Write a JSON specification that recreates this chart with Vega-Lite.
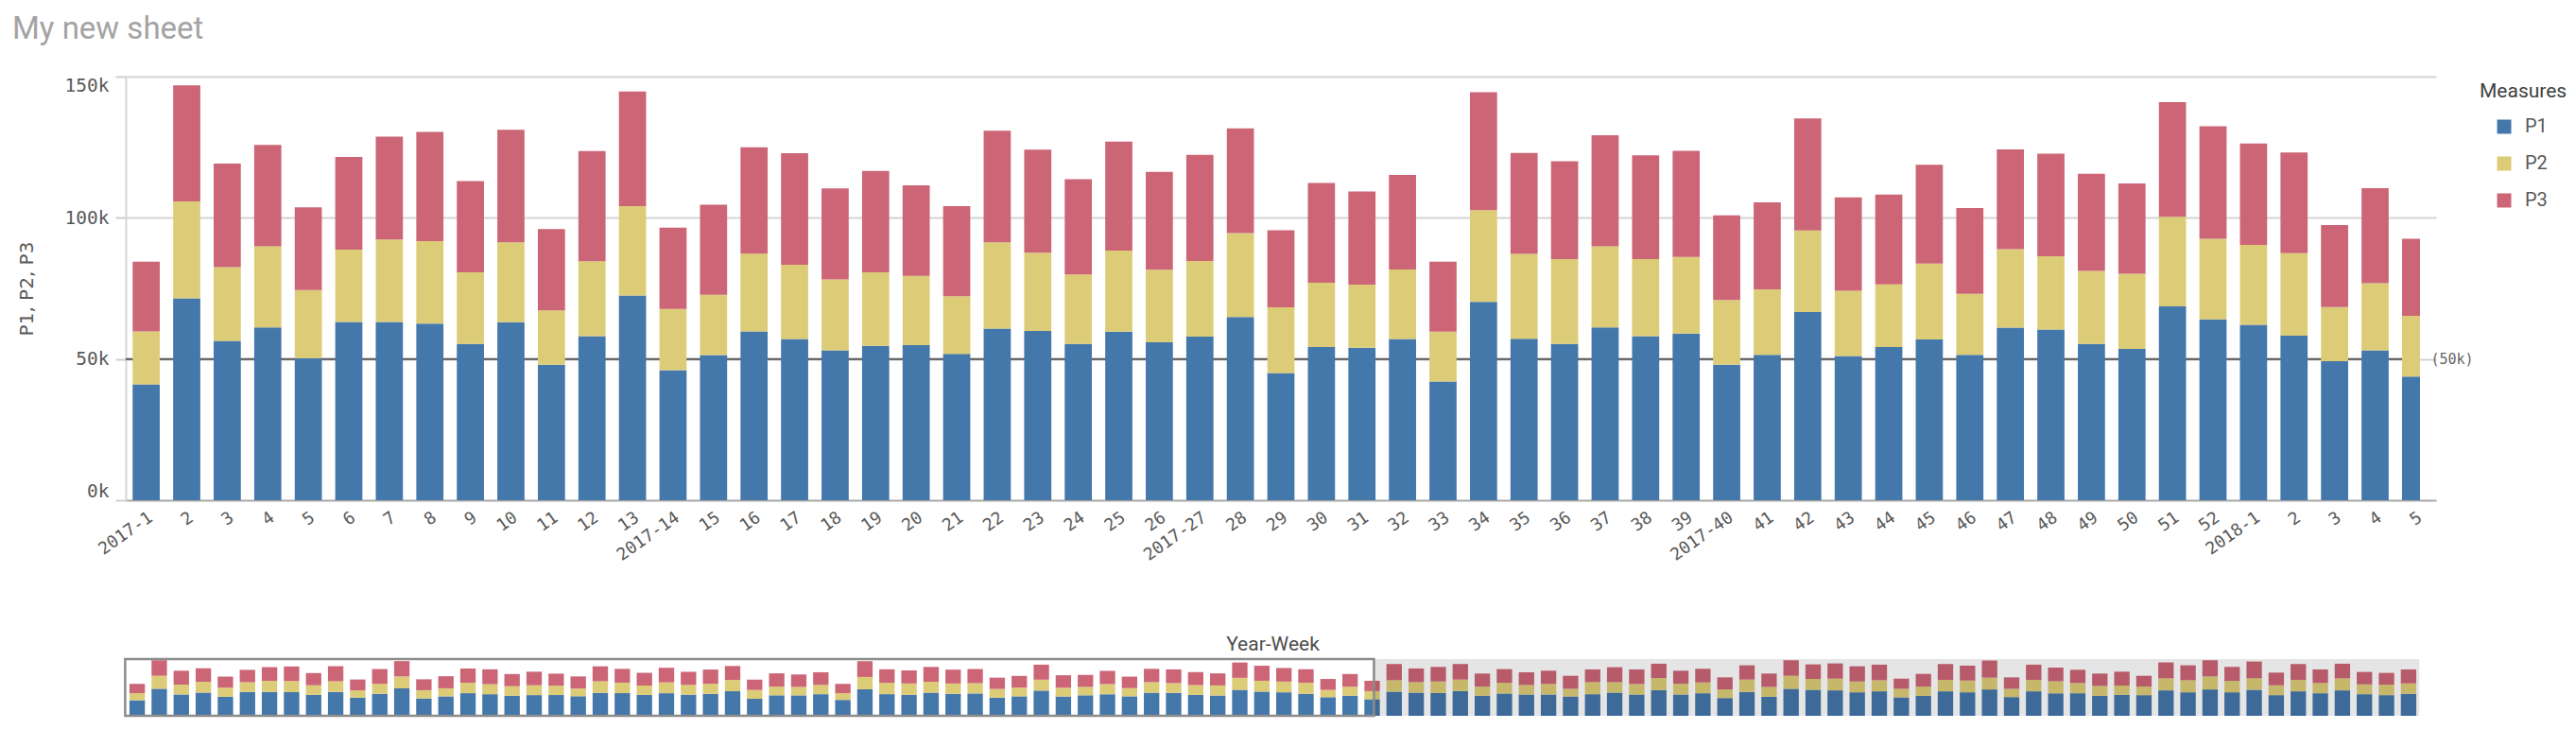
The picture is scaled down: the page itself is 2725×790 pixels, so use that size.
{
  "$schema": "https://vega.github.io/schema/vega-lite/v6.json",
  "background": "white",
  "padding": {"left": 13, "top": 15, "right": 5, "bottom": 5},
  "title": {"text": "My new sheet", "anchor": "start", "frame": "bounds", "font": "Roboto", "fontSize": 33, "fontWeight": "normal", "color": "#a3a3a3", "offset": 32, "dx": -5},
  "datasets": {
    "weeks": [
      {"week": "2017-1", "P1": 41000, "P2": 18800, "P3": 24700},
      {"week": "2017-2", "P1": 71500, "P2": 34300, "P3": 41100},
      {"week": "2017-3", "P1": 56400, "P2": 26100, "P3": 36700},
      {"week": "2017-4", "P1": 61200, "P2": 28700, "P3": 35900},
      {"week": "2017-5", "P1": 50300, "P2": 24100, "P3": 29300},
      {"week": "2017-6", "P1": 63100, "P2": 25600, "P3": 32800},
      {"week": "2017-7", "P1": 63100, "P2": 29200, "P3": 36400},
      {"week": "2017-8", "P1": 62500, "P2": 29200, "P3": 38700},
      {"week": "2017-9", "P1": 55300, "P2": 25400, "P3": 32300},
      {"week": "2017-10", "P1": 63000, "P2": 28300, "P3": 39900},
      {"week": "2017-11", "P1": 48000, "P2": 19200, "P3": 28800},
      {"week": "2017-12", "P1": 58100, "P2": 26500, "P3": 39000},
      {"week": "2017-13", "P1": 72500, "P2": 31600, "P3": 40600},
      {"week": "2017-14", "P1": 46000, "P2": 21700, "P3": 28800},
      {"week": "2017-15", "P1": 51400, "P2": 21300, "P3": 31900},
      {"week": "2017-16", "P1": 59800, "P2": 27500, "P3": 37700},
      {"week": "2017-17", "P1": 57100, "P2": 26300, "P3": 39500},
      {"week": "2017-18", "P1": 53100, "P2": 25100, "P3": 32200},
      {"week": "2017-19", "P1": 54700, "P2": 26000, "P3": 35900},
      {"week": "2017-20", "P1": 54900, "P2": 24500, "P3": 32100},
      {"week": "2017-21", "P1": 51800, "P2": 20400, "P3": 31900},
      {"week": "2017-22", "P1": 60800, "P2": 30500, "P3": 39500},
      {"week": "2017-23", "P1": 59900, "P2": 27700, "P3": 36500},
      {"week": "2017-24", "P1": 55300, "P2": 24600, "P3": 33800},
      {"week": "2017-25", "P1": 59700, "P2": 28700, "P3": 38600},
      {"week": "2017-26", "P1": 55900, "P2": 25700, "P3": 34700},
      {"week": "2017-27", "P1": 57900, "P2": 26800, "P3": 37600},
      {"week": "2017-28", "P1": 64900, "P2": 29700, "P3": 37100},
      {"week": "2017-29", "P1": 45000, "P2": 23300, "P3": 27300},
      {"week": "2017-30", "P1": 54200, "P2": 22800, "P3": 35300},
      {"week": "2017-31", "P1": 54000, "P2": 22300, "P3": 33000},
      {"week": "2017-32", "P1": 57100, "P2": 24600, "P3": 33500},
      {"week": "2017-33", "P1": 42000, "P2": 17700, "P3": 24800},
      {"week": "2017-34", "P1": 70200, "P2": 32500, "P3": 41800},
      {"week": "2017-35", "P1": 57200, "P2": 30000, "P3": 35800},
      {"week": "2017-36", "P1": 55300, "P2": 30100, "P3": 34600},
      {"week": "2017-37", "P1": 61200, "P2": 28700, "P3": 39300},
      {"week": "2017-38", "P1": 58100, "P2": 27300, "P3": 36700},
      {"week": "2017-39", "P1": 59000, "P2": 27100, "P3": 37600},
      {"week": "2017-40", "P1": 48000, "P2": 22900, "P3": 30000},
      {"week": "2017-41", "P1": 51500, "P2": 23200, "P3": 30800},
      {"week": "2017-42", "P1": 66600, "P2": 28900, "P3": 39700},
      {"week": "2017-43", "P1": 51100, "P2": 23100, "P3": 33000},
      {"week": "2017-44", "P1": 54200, "P2": 22200, "P3": 31800},
      {"week": "2017-45", "P1": 56900, "P2": 26900, "P3": 35000},
      {"week": "2017-46", "P1": 51500, "P2": 21600, "P3": 30400},
      {"week": "2017-47", "P1": 61100, "P2": 27800, "P3": 35300},
      {"week": "2017-48", "P1": 60400, "P2": 26000, "P3": 36300},
      {"week": "2017-49", "P1": 55300, "P2": 25900, "P3": 34400},
      {"week": "2017-50", "P1": 53600, "P2": 26600, "P3": 32000},
      {"week": "2017-51", "P1": 68600, "P2": 31800, "P3": 40600},
      {"week": "2017-52", "P1": 64000, "P2": 28600, "P3": 39800},
      {"week": "2018-1", "P1": 62100, "P2": 28300, "P3": 35900},
      {"week": "2018-2", "P1": 58300, "P2": 29200, "P3": 35600},
      {"week": "2018-3", "P1": 49200, "P2": 19200, "P3": 29000},
      {"week": "2018-4", "P1": 53100, "P2": 23700, "P3": 33700},
      {"week": "2018-5", "P1": 43800, "P2": 21500, "P3": 27300},
      {"week": "2018-6", "P1": 63800, "P2": 30200, "P3": 42900},
      {"week": "2018-7", "P1": 61300, "P2": 27700, "P3": 36100},
      {"week": "2018-8", "P1": 60500, "P2": 30200, "P3": 38600},
      {"week": "2018-9", "P1": 65500, "P2": 30200, "P3": 41200},
      {"week": "2018-10", "P1": 52900, "P2": 24300, "P3": 34500},
      {"week": "2018-11", "P1": 58800, "P2": 28500, "P3": 36100},
      {"week": "2018-12", "P1": 56300, "P2": 25100, "P3": 33600},
      {"week": "2018-13", "P1": 56300, "P2": 27700, "P3": 35200},
      {"week": "2018-14", "P1": 51200, "P2": 20200, "P3": 34400},
      {"week": "2018-15", "P1": 57100, "P2": 31900, "P3": 33600},
      {"week": "2018-16", "P1": 61300, "P2": 27700, "P3": 39500},
      {"week": "2018-17", "P1": 56300, "P2": 27700, "P3": 38600},
      {"week": "2018-18", "P1": 68000, "P2": 31900, "P3": 37800},
      {"week": "2018-19", "P1": 56300, "P2": 28500, "P3": 34400},
      {"week": "2018-20", "P1": 59600, "P2": 28600, "P3": 36100},
      {"week": "2018-21", "P1": 47000, "P2": 22700, "P3": 31900},
      {"week": "2018-22", "P1": 63000, "P2": 32700, "P3": 37800},
      {"week": "2018-23", "P1": 50400, "P2": 26000, "P3": 35300},
      {"week": "2018-24", "P1": 71400, "P2": 34400, "P3": 41100},
      {"week": "2018-25", "P1": 68800, "P2": 28600, "P3": 38600},
      {"week": "2018-26", "P1": 67200, "P2": 31000, "P3": 40300},
      {"week": "2018-27", "P1": 62100, "P2": 28600, "P3": 40300},
      {"week": "2018-28", "P1": 64700, "P2": 29300, "P3": 41200},
      {"week": "2018-29", "P1": 48700, "P2": 22700, "P3": 26800},
      {"week": "2018-30", "P1": 52900, "P2": 24300, "P3": 33600},
      {"week": "2018-31", "P1": 64700, "P2": 30200, "P3": 42000},
      {"week": "2018-32", "P1": 62100, "P2": 31100, "P3": 39500},
      {"week": "2018-33", "P1": 69700, "P2": 31100, "P3": 45300},
      {"week": "2018-34", "P1": 49500, "P2": 21900, "P3": 30200},
      {"week": "2018-35", "P1": 64700, "P2": 30200, "P3": 40300},
      {"week": "2018-36", "P1": 59600, "P2": 31900, "P3": 36100},
      {"week": "2018-37", "P1": 59600, "P2": 26900, "P3": 35200},
      {"week": "2018-38", "P1": 52900, "P2": 26000, "P3": 32800},
      {"week": "2018-39", "P1": 55400, "P2": 24400, "P3": 36900},
      {"week": "2018-40", "P1": 54600, "P2": 22600, "P3": 28600},
      {"week": "2018-41", "P1": 67200, "P2": 31900, "P3": 42000},
      {"week": "2018-42", "P1": 62100, "P2": 31900, "P3": 39500},
      {"week": "2018-43", "P1": 69700, "P2": 34400, "P3": 42800},
      {"week": "2018-44", "P1": 62100, "P2": 30300, "P3": 36900},
      {"week": "2018-45", "P1": 68800, "P2": 30300, "P3": 44500},
      {"week": "2018-46", "P1": 54600, "P2": 26000, "P3": 33600},
      {"week": "2018-47", "P1": 64700, "P2": 30200, "P3": 42000},
      {"week": "2018-48", "P1": 59600, "P2": 26900, "P3": 36100},
      {"week": "2018-49", "P1": 67200, "P2": 31900, "P3": 38600},
      {"week": "2018-50", "P1": 57100, "P2": 26000, "P3": 32800},
      {"week": "2018-51", "P1": 54600, "P2": 27700, "P3": 31100},
      {"week": "2018-52", "P1": 57900, "P2": 27700, "P3": 37000}
    ],
    "refline": [{"ref": 50000}],
    "window": [{"start": "2017-1", "end": "2018-5"}],
    "rest": [{"start": "2018-5", "end": "2018-52"}]
  },
  "spacing": 4,
  "vconcat": [
    {
      "width": 2427,
      "height": 448,
      "layer": [
        {
          "data": {"name": "refline"},
          "mark": {"type": "rule", "color": "#555555", "strokeWidth": 2},
          "encoding": {
            "y": {
              "field": "ref", "type": "quantitative",
              "scale": {"domain": [0, 150000], "nice": false},
              "axis": {"orient": "right", "values": [50000], "labelExpr": "'(' + format(datum.value, '~s') + ')'", "grid": false, "ticks": false, "domain": false, "title": null, "labelFontSize": 15, "labelPadding": 11, "labelColor": "#666666"}
            }
          }
        },
        {
          "data": {"name": "weeks"},
          "transform": [
            {"filter": "split(datum.week, '-')[0] == '2017' || toNumber(split(datum.week, '-')[1]) <= 5"},
            {"fold": ["P1", "P2", "P3"], "as": ["key", "value"]}
          ],
          "mark": {"type": "bar", "clip": true},
          "encoding": {
            "x": {
              "field": "week", "type": "nominal", "sort": null,
              "scale": {"range": [0, 2444], "paddingInner": 0.33, "paddingOuter": 0.17},
              "axis": {
                "title": "Year-Week", "titleFont": "Roboto", "titleFontSize": 21, "titleColor": "#4d4d4d", "titleFontWeight": "normal",
                "titleY": 141, "titleX": 1213, "titleBaseline": "top",
                "labelAngle": -35, "labelAlign": "right", "labelBaseline": "top", "labelFontSize": 18, "labelPadding": 9,
                "labelOverlap": false, "labelBound": false, "ticks": false, "domain": false, "grid": false,
                "labelExpr": "toNumber(split(datum.value, '-')[1]) % 13 == 1 ? datum.value : split(datum.value, '-')[1]"
              }
            },
            "y": {
              "field": "value", "type": "quantitative", "stack": "zero",
              "scale": {"domain": [0, 150000], "nice": false},
              "axis": {
                "orient": "left", "title": "P1, P2, P3", "titleFontSize": 20, "titlePadding": 30,
                "values": [0, 50000, 100000, 150000], "format": "~s", "labelFlush": true,
                "labelFontSize": 19.5, "labelPadding": 7, "tickSize": 11, "tickColor": "#cfcfcf", "tickWidth": 2,
                "domain": true, "domainColor": "#d6d6d6", "domainWidth": 2,
                "grid": true, "gridColor": {"condition": {"test": "datum.value === 0", "value": "#a8a8a8"}, "value": "#d3d3d3"}, "gridWidth": 2
              }
            },
            "color": {
              "field": "key", "type": "nominal", "title": "Measures",
              "scale": {"domain": ["P1", "P2", "P3"], "range": ["#4477aa", "#ddcc77", "#cc6677"]}
            },
            "order": {"field": "key", "sort": "ascending"}
          }
        }
      ],
      "resolve": {"axis": {"y": "independent"}}
    },
    {
      "width": 2427,
      "height": 60,
      "layer": [
        {
          "data": {"name": "weeks"},
          "transform": [{"fold": ["P1", "P2", "P3"], "as": ["key", "value"]}],
          "mark": {"type": "bar"},
          "encoding": {
            "x": {
              "field": "week", "type": "nominal",
              "scale": {"paddingInner": 0.3, "paddingOuter": 0.17, "domain": ["2017-1","2017-2","2017-3","2017-4","2017-5","2017-6","2017-7","2017-8","2017-9","2017-10","2017-11","2017-12","2017-13","2017-14","2017-15","2017-16","2017-17","2017-18","2017-19","2017-20","2017-21","2017-22","2017-23","2017-24","2017-25","2017-26","2017-27","2017-28","2017-29","2017-30","2017-31","2017-32","2017-33","2017-34","2017-35","2017-36","2017-37","2017-38","2017-39","2017-40","2017-41","2017-42","2017-43","2017-44","2017-45","2017-46","2017-47","2017-48","2017-49","2017-50","2017-51","2017-52","2018-1","2018-2","2018-3","2018-4","2018-5","2018-6","2018-7","2018-8","2018-9","2018-10","2018-11","2018-12","2018-13","2018-14","2018-15","2018-16","2018-17","2018-18","2018-19","2018-20","2018-21","2018-22","2018-23","2018-24","2018-25","2018-26","2018-27","2018-28","2018-29","2018-30","2018-31","2018-32","2018-33","2018-34","2018-35","2018-36","2018-37","2018-38","2018-39","2018-40","2018-41","2018-42","2018-43","2018-44","2018-45","2018-46","2018-47","2018-48","2018-49","2018-50","2018-51","2018-52"]},
              "axis": null
            },
            "y": {"field": "value", "type": "quantitative", "stack": "zero", "scale": {"domain": [0, 150000], "nice": false}, "axis": null},
            "color": {
              "field": "key", "type": "nominal", "title": "Measures",
              "scale": {"domain": ["P1", "P2", "P3"], "range": ["#4477aa", "#ddcc77", "#cc6677"]}
            },
            "order": {"field": "key", "sort": "ascending"}
          }
        },
        {
          "data": {"name": "rest"},
          "mark": {"type": "rect", "fill": "#000000", "opacity": 0.1},
          "encoding": {
            "x": {"field": "start", "type": "nominal", "bandPosition": 0.62, "axis": null},
            "x2": {"field": "end", "bandPosition": 1.2},
            "y": {"datum": 0, "type": "quantitative"},
            "y2": {"datum": 150000}
          }
        },
        {
          "data": {"name": "window"},
          "mark": {"type": "rect", "fillOpacity": 0, "stroke": "#8c8c8c", "strokeWidth": 2.5},
          "encoding": {
            "x": {"field": "start", "type": "nominal", "bandPosition": -0.28, "axis": null},
            "x2": {"field": "end", "bandPosition": 0.62},
            "y": {"datum": 0, "type": "quantitative"},
            "y2": {"datum": 150000}
          }
        }
      ]
    }
  ],
  "config": {
    "view": {"stroke": null},
    "axis": {"labelFont": "DejaVu Sans Mono", "labelColor": "#595959", "titleFont": "DejaVu Sans", "titleColor": "#595959", "titleFontWeight": "normal"},
    "legend": {
      "orient": "right", "offset": 1, "padding": 5,
      "titleFont": "Roboto", "titleFontSize": 21, "titleFontWeight": "normal", "titleColor": "#404040", "titlePadding": 17,
      "labelFont": "Roboto", "labelFontSize": 20, "labelColor": "#595959", "labelOffset": 12,
      "symbolType": "square", "symbolSize": 225, "symbolStrokeWidth": 0, "symbolOffset": 16, "rowPadding": 19
    }
  }
}
